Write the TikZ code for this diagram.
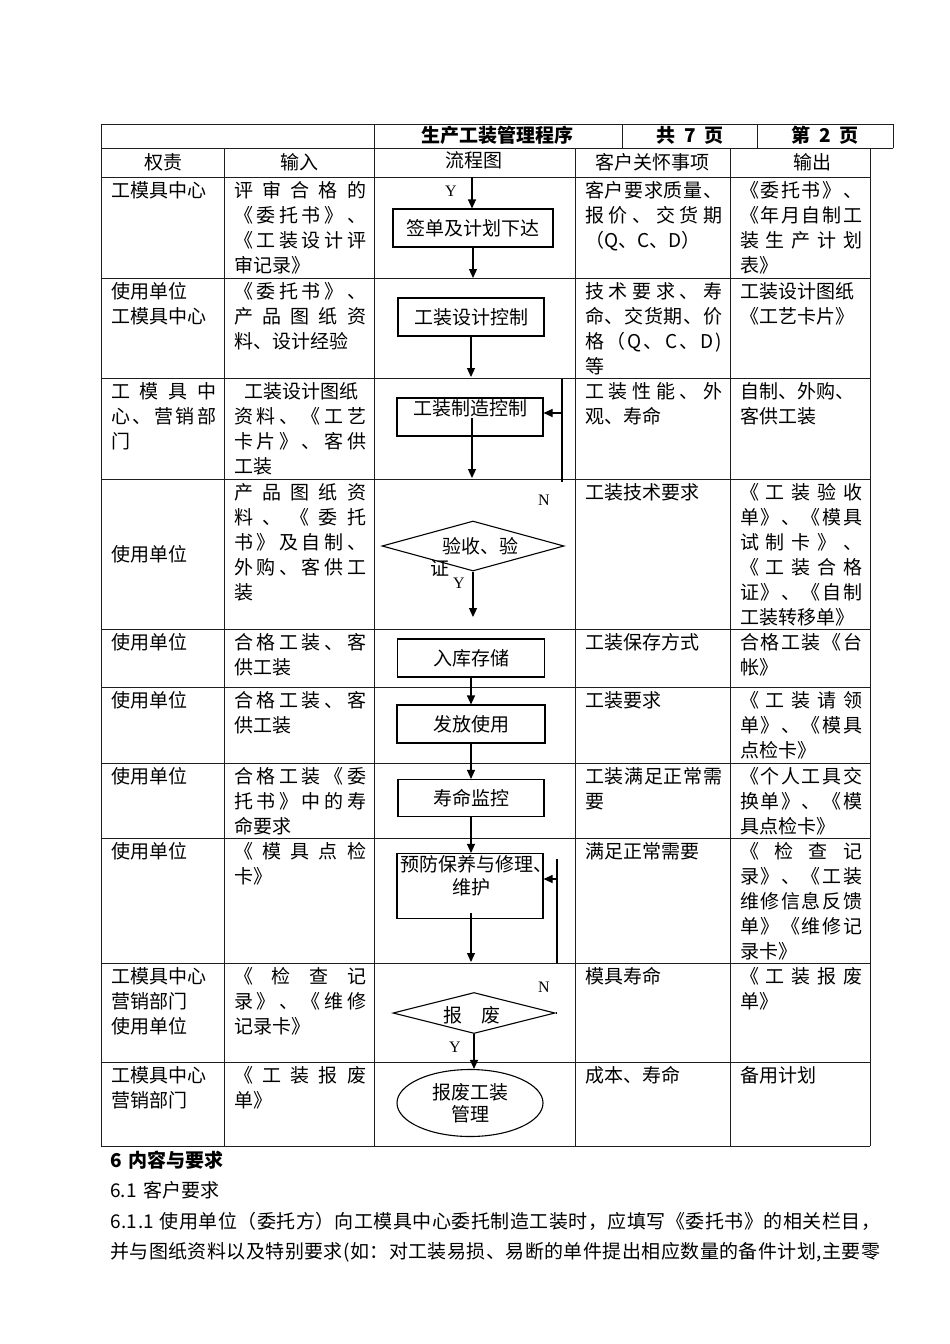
\documentclass[tikz,border=0pt]{standalone}
\usepackage{fontspec}
\usepackage{tikz}
\usetikzlibrary{arrows.meta,positioning,shapes.geometric}
\newfontfamily\cjk{Noto Sans CJK SC}
\newfontfamily\ynfont{Liberation Serif}
\definecolor{GridLine}{HTML}{1E1E1E}
\definecolor{FlowLine}{HTML}{000000}
\def\spreadloop#1{\ifx\relax#1\else\hfill#1\expandafter\spreadloop\fi}
\def\jlfirst#1{#1\spreadloop}
\newcommand\jl[2]{\hbox to #1{\jlfirst#2\relax}}
\newcommand\jA{\jl{105pt}}
\newcommand\jB{\jl{132pt}}
\newcommand\jD{\jl{137pt}}
\newcommand\jE{\jl{122pt}}
\tikzset{
  cell/.style={anchor=north west,inner sep=0pt,align=left,font={\cjk\fontsize{19}{25}\selectfont}},
  head/.style={inner sep=0pt,font={\cjk\fontsize{19}{25}\selectfont}},
  flowbox/.style={draw=FlowLine,line width=1.1pt,minimum width=146,minimum height=38,inner sep=0pt,font={\cjk\fontsize{19}{23}\selectfont}},
  flowtext/.style={inner sep=0pt,font={\cjk\fontsize{19}{23}\selectfont}},
  decide/.style={draw=FlowLine,line width=1.1pt,diamond,inner sep=0pt},
  ynlabel/.style={inner sep=0pt,font={\ynfont\fontsize{16}{18}\selectfont}},
  arr/.style={draw=FlowLine,line width=1.1pt,-{Triangle[length=9pt,width=8pt]}},
  flowline/.style={draw=FlowLine,line width=1.1pt},
  grid/.style={draw=GridLine,line width=0.9pt}
}
\begin{document}
\begin{tikzpicture}[x=1pt,y=-1pt]
  \useasboundingbox (0,0) rectangle (950,1344);

  % table frame
  \draw[grid] (101,124) -- (893,124);
  \draw[grid] (101,148) -- (893,148);
  \draw[grid] (893,124) -- (893,148);
  \draw[grid] (622,124) -- (622,148);
  \draw[grid] (757,124) -- (757,148);
  \draw[grid] (101,124) -- (101,1146);
  \draw[grid] (374,124) -- (374,1146);
  \foreach \x in {224,575,730,870}
    \draw[grid] (\x,148) -- (\x,1146);
  \foreach \y in {177,278,378,479,629,687,763,838,963,1062,1146}
    \draw[grid] (101,\y) -- (870,\y);

  \node[head,font={\cjk\bfseries\fontsize{19}{25}\selectfont}] (title) at (497,135) {生产工装管理程序};
  \node[head,font={\cjk\bfseries\fontsize{19}{25}\selectfont}] (total) at (690,135) {共\hspace{9pt}7\hspace{9pt}页};
  \node[head,font={\cjk\bfseries\fontsize{19}{25}\selectfont}] (page) at (825,135) {第\hspace{9pt}2\hspace{9pt}页};

  \node[head] (hA) at (163,162) {权责};
  \node[head] (hB) at (299,162) {输入};
  \node[head] (hC) at (474,160) {流程图};
  \node[head] (hD) at (652,162) {客户关怀事项};
  \node[head] (hE) at (812,162) {输出};

  % column 1
  \node[cell] (r1a) at (111,181) {工模具中心};
  \node[cell] (r2a) at (111,282) {使用单位\\工模具中心};
  \node[cell] (r3a) at (111,382) {\jA{工模具中}\\\jA{心、营销部}\\门};
  \node[cell,anchor=west] (r4a) at (111,554) {使用单位};
  \node[cell] (r5a) at (111,633) {使用单位};
  \node[cell] (r6a) at (111,691) {使用单位};
  \node[cell] (r7a) at (111,767) {使用单位};
  \node[cell] (r8a) at (111,842) {使用单位};
  \node[cell] (r9a) at (111,967) {工模具中心\\营销部门\\使用单位};
  \node[cell] (r10a) at (111,1066) {工模具中心\\营销部门};

  % column 2
  \node[cell] (r1b) at (234,181) {\jB{评审合格的}\\\jB{《委托书》、}\\\jB{《工装设计评}\\审记录》};
  \node[cell] (r2b) at (234,282) {\jB{《委托书》、}\\\jB{产品图纸资}\\料、设计经验};
  \node[cell] (r3b) at (234,382) {\hspace*{10pt}工装设计图纸\\\jB{资料、《工艺}\\\jB{卡片》、客供}\\工装};
  \node[cell] (r4b) at (234,483) {\jB{产品图纸资}\\\jB{料、《委托}\\\jB{书》及自制、}\\\jB{外购、客供工}\\装};
  \node[cell] (r5b) at (234,633) {\jB{合格工装、客}\\供工装};
  \node[cell] (r6b) at (234,691) {\jB{合格工装、客}\\供工装};
  \node[cell] (r7b) at (234,767) {\jB{合格工装《委}\\\jB{托书》中的寿}\\命要求};
  \node[cell] (r8b) at (234,842) {\jB{《模具点检}\\卡》};
  \node[cell] (r9b) at (234,967) {\jB{《检查记}\\\jB{录》、《维修}\\记录卡》};
  \node[cell] (r10b) at (234,1066) {\jB{《工装报废}\\单》};

  % column 4
  \node[cell] (r1d) at (585,181) {\jD{客户要求质量、}\\\jD{报价、交货期}\\（Q、C、D）};
  \node[cell] (r2d) at (585,282) {\jD{技术要求、寿}\\\jD{命、交货期、价}\\\jD{格（Q、C、D)}\\等};
  \node[cell] (r3d) at (585,382) {\jD{工装性能、外}\\观、寿命};
  \node[cell] (r4d) at (585,483) {工装技术要求};
  \node[cell] (r5d) at (585,633) {工装保存方式};
  \node[cell] (r6d) at (585,691) {工装要求};
  \node[cell] (r7d) at (585,767) {\jD{工装满足正常需}\\要};
  \node[cell] (r8d) at (585,842) {满足正常需要};
  \node[cell] (r9d) at (585,967) {模具寿命};
  \node[cell] (r10d) at (585,1066) {成本、寿命};

  % column 5
  \node[cell] (r1e) at (740,181) {\jE{《委托书》、}\\\jE{《年月自制工}\\\jE{装生产计划}\\表》};
  \node[cell] (r2e) at (740,282) {工装设计图纸\\《工艺卡片》};
  \node[cell] (r3e) at (740,382) {自制、外购、\\客供工装};
  \node[cell] (r4e) at (740,483) {\jE{《工装验收}\\\jE{单》、《模具}\\\jE{试制卡》、}\\\jE{《工装合格}\\\jE{证》、《自制}\\工装转移单》};
  \node[cell] (r5e) at (740,633) {\jE{合格工装《台}\\帐》};
  \node[cell] (r6e) at (740,691) {\jE{《工装请领}\\\jE{单》、《模具}\\点检卡》};
  \node[cell] (r7e) at (740,767) {\jE{《个人工具交}\\\jE{换单》、《模}\\具点检卡》};
  \node[cell] (r8e) at (740,842) {\jE{《检查记}\\\jE{录》、《工装}\\\jE{维修信息反馈}\\\jE{单》《维修记}\\录卡》};
  \node[cell] (r9e) at (740,967) {\jE{《工装报废}\\单》};
  \node[cell] (r10e) at (740,1066) {备用计划};

  % flow chart
  \node[flowbox,minimum width=160] (sign) at (473,228) {签单及计划下达};
  \node[flowbox] (design) at (471,317) {工装设计控制};
  \node[flowbox] (make) at (470,417) {};
  \node[flowtext] (maketxt) at (470,408) {工装制造控制};
  \node[decide,minimum width=182,minimum height=50] (accept) at (473,546) {};
  \node[flowtext] (acctxtA) at (480,546) {验收、验};
  \node[flowtext] (acctxtB) at (440,568) {证};
  \node[flowbox,minimum width=147] (store) at (471,658) {入库存储};
  \node[flowbox,minimum width=148] (issue) at (471,724) {发放使用};
  \node[flowbox,minimum height=37] (life) at (471,798) {寿命监控};
  \node[flowbox,minimum height=65] (maint) at (470,886) {};
  \node[flowtext] (mtxtA) at (476,864) {预防保养与修理、};
  \node[flowtext] (mtxtB) at (471,887) {维护};
  \node[decide,minimum width=162,minimum height=41] (scrap) at (474,1013) {};
  \node[flowtext] (scraptxt) at (472,1015) {报\hspace{19pt}废};
  \node[draw=FlowLine,line width=1.1pt,ellipse,minimum width=146,minimum height=67,inner sep=0pt,
        align=center,font={\cjk\fontsize{19}{22}\selectfont}] (mgmt) at (470,1103) {报废工装\\管理};

  \coordinate (inY) at (472,177);
  \coordinate (r2top) at (472,278);
  \coordinate (r3top) at (472,377);
  \coordinate (makeout) at (472,418);
  \coordinate (r4top) at (472,478);
  \coordinate (fbtopA) at (562,379);
  \coordinate (fbbotA) at (562,482);
  \coordinate (fbinA) at (562,413);
  \coordinate (accout) at (473,617);
  \coordinate (maintout) at (471,913);
  \coordinate (r9top) at (471,962);
  \coordinate (fbtopB) at (557,859);
  \coordinate (fbbotB) at (557,963);
  \coordinate (fbinB) at (557,879);
  \coordinate (scrapN) at (557,1013);

  \draw[arr] (inY) -- (inY |- sign.north);
  \draw[arr] (sign.south) -- (sign.south |- r2top);
  \draw[arr] (design.south) -- (design.south |- r3top);
  \draw[arr] (makeout) -- (makeout |- r4top);
  \draw[flowline] (fbtopA) -- (fbbotA);
  \draw[arr] (fbinA) -- (fbinA -| make.east);
  \draw[arr] (accept.south) -- (accept.south |- accout);
  \draw[arr] (store.south) -- (store.south |- issue.north);
  \draw[arr] (issue.south) -- (issue.south |- life.north);
  \draw[arr] (life.south) -- (life.south |- maint.north);
  \draw[arr] (maintout) -- (maintout |- r9top);
  \draw[flowline] (fbtopB) -- (fbbotB);
  \draw[arr] (fbinB) -- (fbinB -| maint.east);
  \draw[flowline] (scrap.east) -- (scrapN);
  \draw[arr] (scrap.south) -- (scrap.south |- mgmt.north);

  \node[ynlabel] (yA) at (451,191) {Y};
  \node[ynlabel] (nA) at (544,500) {N};
  \node[ynlabel] (yB) at (459,583) {Y};
  \node[ynlabel] (nB) at (544,987) {N};
  \node[ynlabel] (yC) at (455,1047) {Y};

  % text below the table
  \node[anchor=west,inner sep=0pt,font={\cjk\bfseries\fontsize{19}{25}\selectfont}] (sec) at (110,1160) {6\hspace{7pt}内容与要求};
  \node[anchor=west,inner sep=0pt,font={\cjk\fontsize{19}{25}\selectfont}] (subsec) at (110,1190) {6.1\hspace{7pt}客户要求};
  \node[anchor=west,inner sep=0pt,font={\cjk\fontsize{19}{25}\selectfont}] (paraA) at (110,1221)
    {\jl{770pt}{6.1.1\ 使用单位（委托方）向工模具中心委托制造工装时，应填写《委托书》的相关栏目，}};
  \node[anchor=west,inner sep=0pt,font={\cjk\fontsize{19}{25}\selectfont}] (paraB) at (110,1252)
    {\jl{770pt}{并与图纸资料以及特别要求(如：对工装易损、易断的单件提出相应数量的备件计划,主要零}};
\end{tikzpicture}
\end{document}
